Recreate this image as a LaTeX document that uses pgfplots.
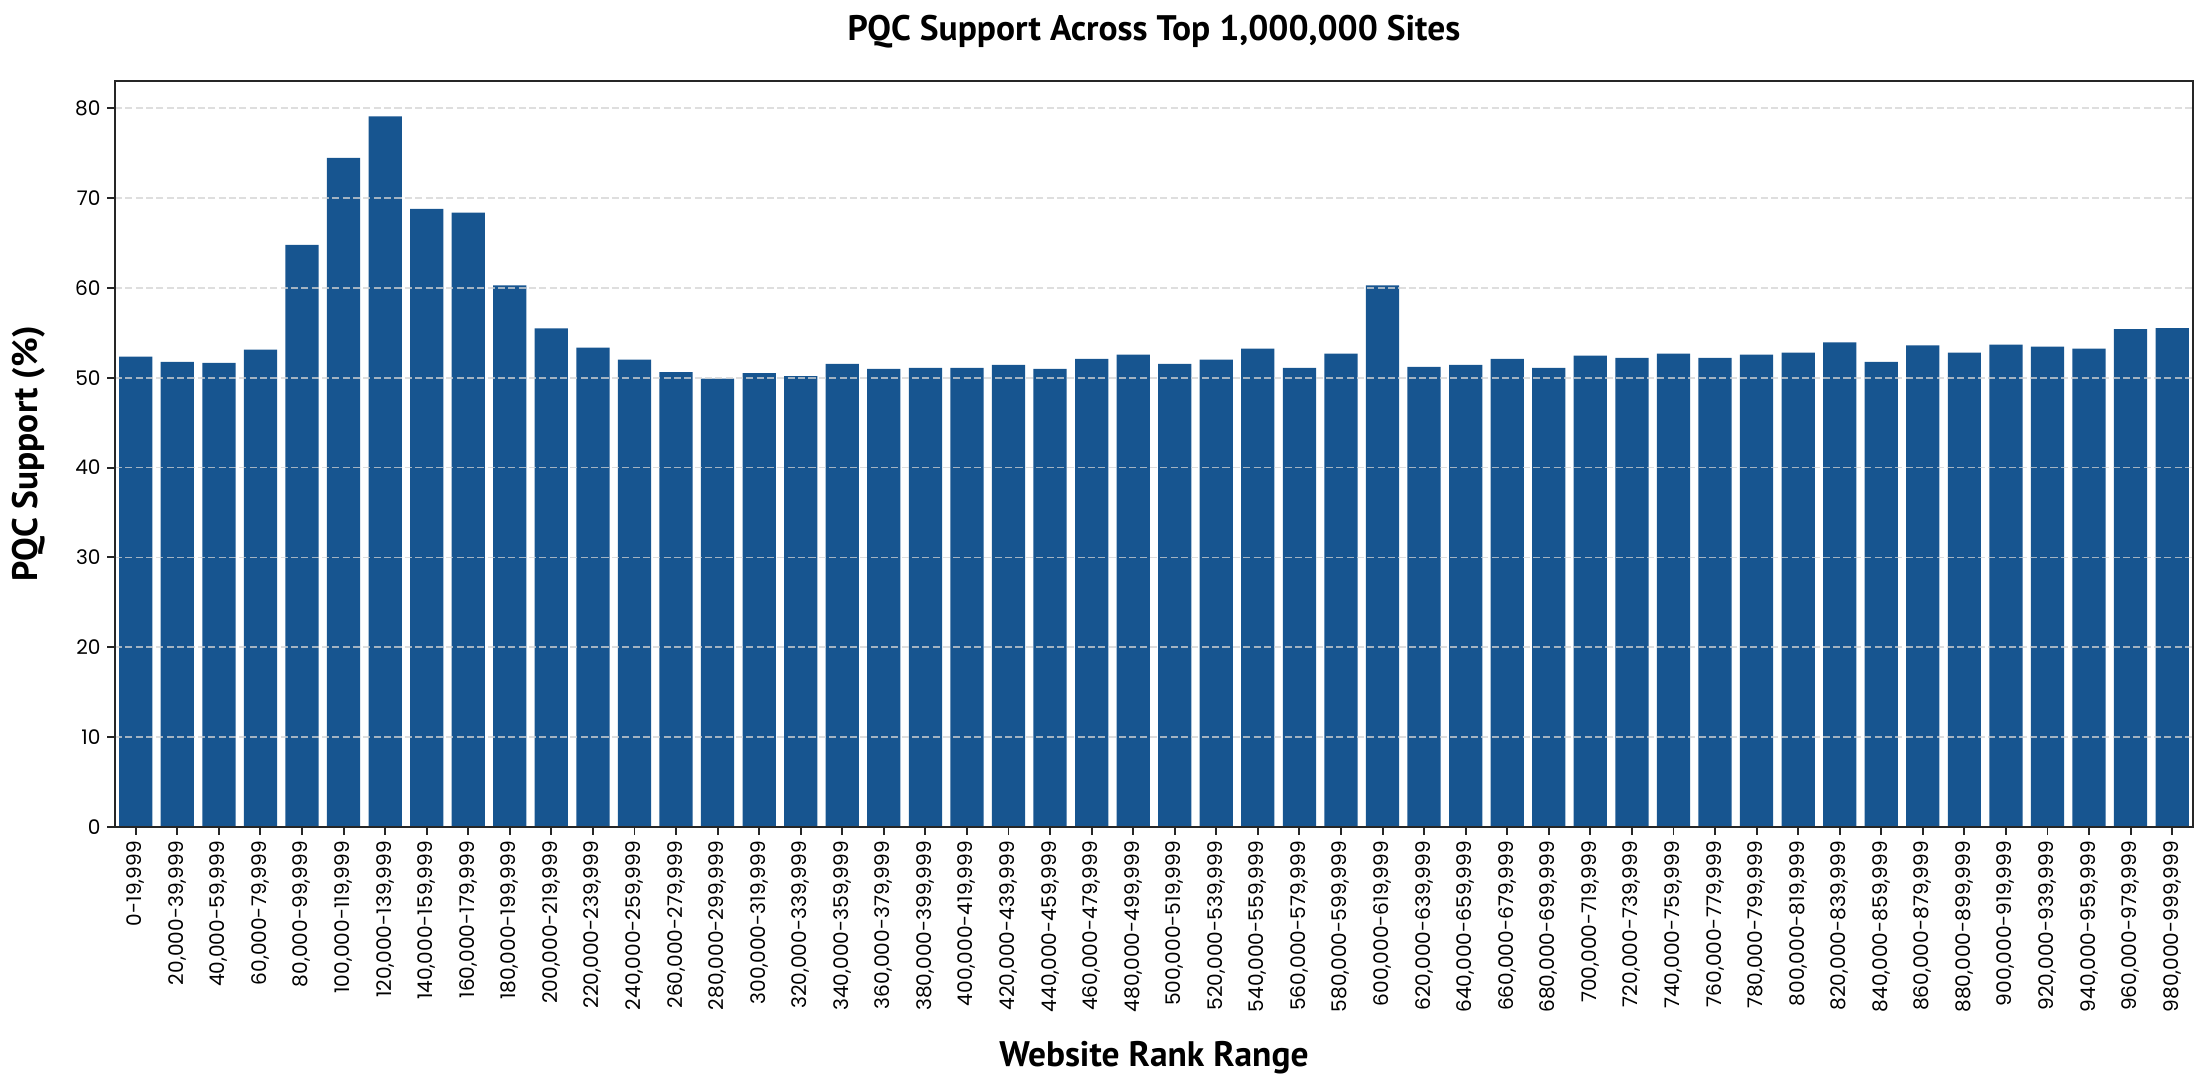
\documentclass[border=0pt]{standalone}
\usepackage{fontspec}
\setmainfont{Poppins}
\newfontfamily\labelfont{PT Sans}
\usepackage{pgfplots}
\pgfplotsset{compat=1.18}
\definecolor{barblue}{RGB}{23,85,144}
\definecolor{gridgray}{RGB}{211,211,211}
\begin{document}
\begin{tikzpicture}
\path[use as bounding box] (0,0) rectangle (1152pt,566pt);
\begin{axis}[
  at={(60pt,134.6pt)}, anchor=south west,
  width=1084.2pt, height=389.2pt, scale only axis,
  xmin=-0.5, xmax=49.5, ymin=0, ymax=83.06,
  ybar, bar width=0.8,
  axis on top,
  axis line style={line width=1pt, color=black!85},
  tick style={line width=1pt, color=black!85},
  tick align=outside, major tick length=4pt,
  xtick pos=bottom, ytick pos=left,
  xtick={0,...,49},
  ytick={0,10,...,80},
  ymajorgrids,
  major grid style={color=gridgray, opacity=0.75, line width=0.9pt, dash pattern=on 3.7pt off 1.7pt},
  /pgf/number format/assume math mode=true,
  ticklabel style={font=\fontsize{10.5}{12}\selectfont},
  xticklabel style={rotate=90, anchor=east},
  xticklabels={{0-19,999},{20,000-39,999},{40,000-59,999},{60,000-79,999},{80,000-99,999},{100,000-119,999},{120,000-139,999},{140,000-159,999},{160,000-179,999},{180,000-199,999},{200,000-219,999},{220,000-239,999},{240,000-259,999},{260,000-279,999},{280,000-299,999},{300,000-319,999},{320,000-339,999},{340,000-359,999},{360,000-379,999},{380,000-399,999},{400,000-419,999},{420,000-439,999},{440,000-459,999},{460,000-479,999},{480,000-499,999},{500,000-519,999},{520,000-539,999},{540,000-559,999},{560,000-579,999},{580,000-599,999},{600,000-619,999},{620,000-639,999},{640,000-659,999},{660,000-679,999},{680,000-699,999},{700,000-719,999},{720,000-739,999},{740,000-759,999},{760,000-779,999},{780,000-799,999},{800,000-819,999},{820,000-839,999},{840,000-859,999},{860,000-879,999},{880,000-899,999},{900,000-919,999},{920,000-939,999},{940,000-959,999},{960,000-979,999},{980,000-999,999}},
  title={PQC Support Across Top 1,000,000 Sites},
  title style={at={(axis description cs:0.5,1)}, anchor=center, yshift=19.5pt, font=\labelfont\bfseries\fontsize{18.5}{22}\selectfont},
  xlabel={Website Rank Range},
  xlabel style={at={(axis description cs:0.5,-0.31)}, anchor=center, font=\labelfont\bfseries\fontsize{18.5}{22}\selectfont},
  ylabel={PQC Support (\%)},
  ylabel style={at={(axis description cs:-0.0415,0.5)}, anchor=center, font=\labelfont\bfseries\fontsize{18.5}{22}\selectfont},
]
\addplot[fill=barblue, draw=none] coordinates {
(0,52.35) (1,51.78) (2,51.67) (3,53.14) (4,64.8) (5,74.5) (6,79.1) (7,68.8) (8,68.4) (9,60.3)
(10,55.5) (11,53.37) (12,52.01) (13,50.64) (14,49.92) (15,50.53) (16,50.19) (17,51.55) (18,50.98) (19,51.10)
(20,51.10) (21,51.44) (22,50.98) (23,52.12) (24,52.58) (25,51.55) (26,52.01) (27,53.26) (28,51.10) (29,52.69)
(30,60.3) (31,51.21) (32,51.44) (33,52.12) (34,51.10) (35,52.46) (36,52.23) (37,52.69) (38,52.23) (39,52.58)
(40,52.8) (41,53.94) (42,51.78) (43,53.6) (44,52.8) (45,53.7) (46,53.48) (47,53.26) (48,55.42) (49,55.53)
};
\end{axis}
\end{tikzpicture}
\end{document}
